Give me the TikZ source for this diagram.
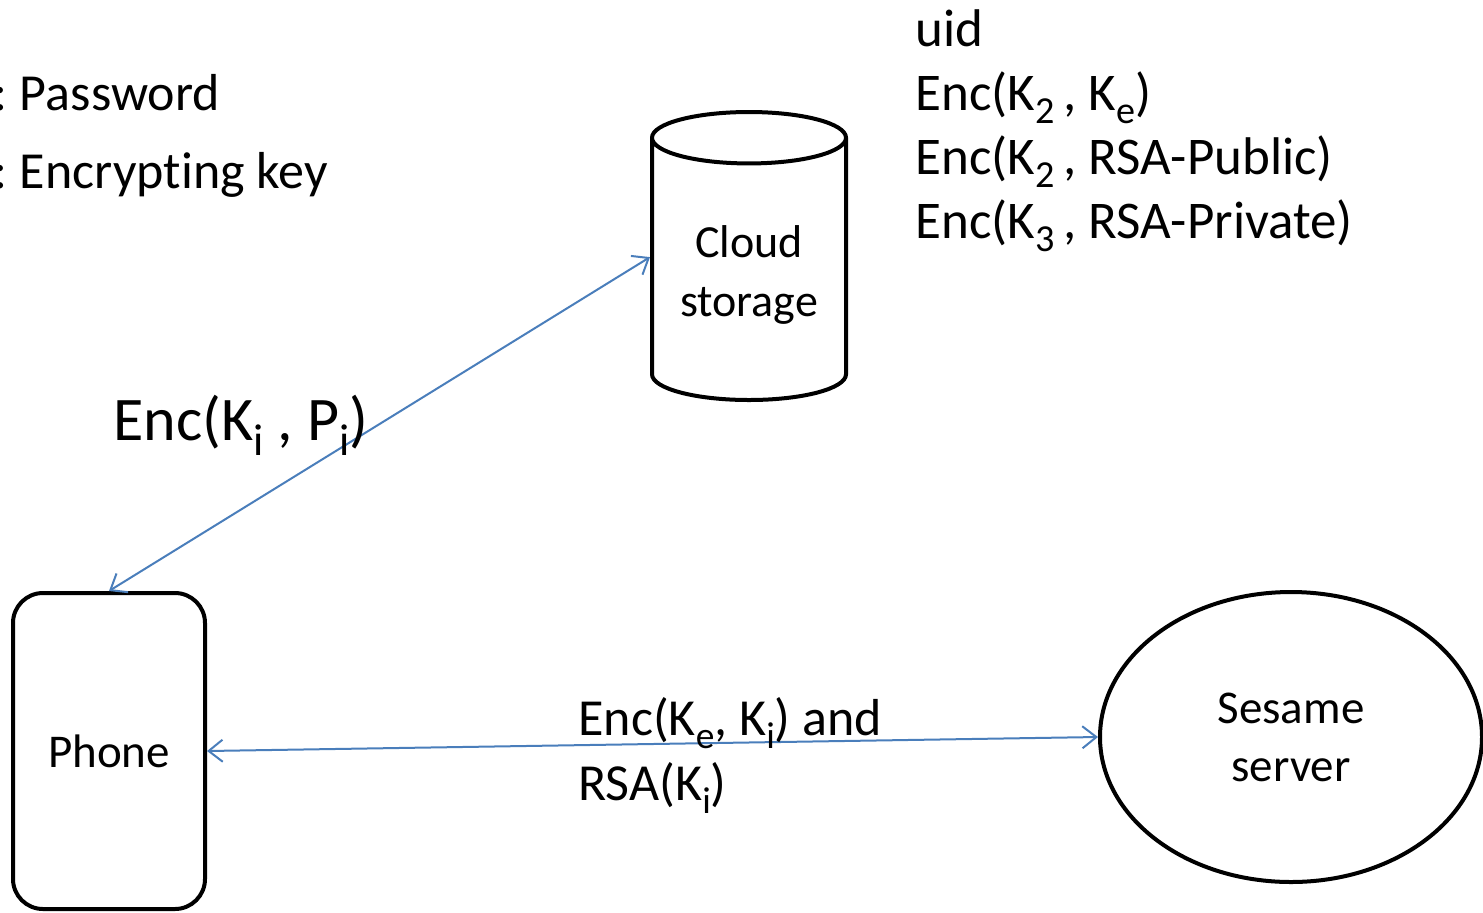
\documentclass[tikz,border=0pt]{standalone}
\usepackage{fontspec}
\setmainfont{Carlito}[Ligatures=NoCommon]
\usetikzlibrary{shapes.geometric,arrows.meta}
\definecolor{linkblue}{HTML}{4A7EBB}
\newcommand{\lowidx}[1]{\raisebox{-0.25em}{\scalebox{0.72}{#1}}}
\tikzset{
  device/.style={draw, line width=2pt, rounded corners=15pt, minimum width=96pt, minimum height=158pt, font=\fontsize{23.5}{28}\selectfont},
  store/.style={draw, line width=2pt, cylinder, shape border rotate=90, aspect=0.34, minimum width=97pt, minimum height=144pt, align=center, font=\fontsize{23}{29.5}\selectfont},
  server/.style={draw, line width=2pt, ellipse, minimum width=191pt, minimum height=145pt, align=center, font=\fontsize{23.5}{29}\selectfont},
  link/.style={linkblue, line width=1pt, {Straight Barb[length=7pt,width=11pt]}-{Straight Barb[length=7pt,width=11pt]}},
  note/.style={anchor=base west, inner sep=0pt, align=left}
}
\begin{document}
\begin{tikzpicture}[x=0.5pt, y=-0.5pt]
  \useasboundingbox (0,0) rectangle (1483,912);

  % legend, cut at the left edge
  \node[note, font=\fontsize{26}{32}\selectfont] (pwd) at (-7,110) {:\kern-1.5pt{} Password};
  \node[note, font=\fontsize{26}{32}\selectfont] (key) at (-7,188) {:\kern-1.5pt{} Encrypting key};

  % the three parties
  \node[device] (phone) at (109,751) {Phone};
  \node[store, anchor=south] (cloud) at (749,402) {Cloud\\storage};
  \node[server] (sesame) at (1291,737) {Sesame\\server};

  % what the cloud keeps (base = last line)
  \node[note, font=\fontsize{26.5}{32}\selectfont] (stored) at (915,238)
    {uid\\Enc(K\lowidx{2}\,, K\lowidx{e})\\Enc(K\lowidx{2}\,, RSA-Public)\\Enc(K\lowidx{3}\,, RSA-Private)};

  % exchanges
  \draw[link] (phone.north) -- (cloud.170);
  \draw[link] (phone.east) -- (sesame.west);

  \node[note, font=\fontsize{31}{36}\selectfont] (upload) at (113,440) {Enc(K\lowidx{i} , P\lowidx{i})};
  \node[note, font=\fontsize{26}{32.5}\selectfont] (register) at (578,800)
    {Enc(K\lowidx{e}, K\lowidx{i}) and\\RSA(K\lowidx{i})};
\end{tikzpicture}
\end{document}
